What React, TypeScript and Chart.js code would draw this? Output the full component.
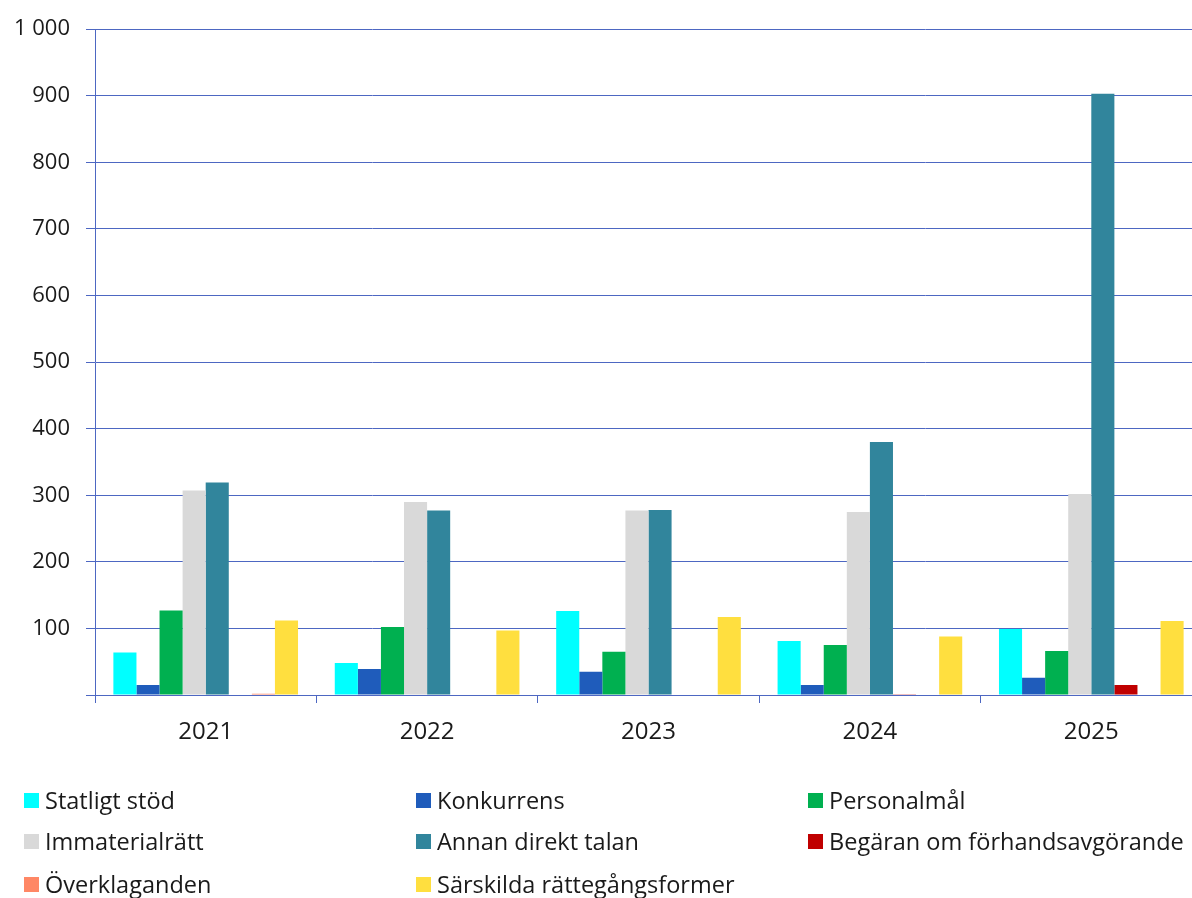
import React, { useEffect, useRef } from "react";
import { Chart, registerables } from "chart.js";

Chart.register(...registerables);

const years = ["2021", "2022", "2023", "2024", "2025"];
const seriesNames = [
  "Statligt stöd",
  "Konkurrens",
  "Personalmål",
  "Immaterialrätt",
  "Annan direkt talan",
  "Begäran om förhandsavgörande",
  "Överklaganden",
  "Särskilda rättegångsformer",
];
const seriesColors = [
  "#00ffff",
  "#1f5cbb",
  "#00b050",
  "#d9d9d9",
  "#31859c",
  "#c00000",
  "#ff8765",
  "#ffdf3f",
];
const statligtStod = [64, 48, 126, 81, 99];
const konkurrens = [15, 39, 35, 15, 26];
const personalmal = [127, 102, 65, 75, 66];
const immaterialratt = [307, 290, 277, 275, 302];
const annanDirektTalan = [319, 277, 278, 380, 903];
const begaran = [0, 0, 0, 1, 15];
const overklaganden = [2, 0, 0, 0, 0];
const sarskilda = [112, 97, 117, 88, 111];
const seriesValues = [
  statligtStod,
  konkurrens,
  personalmal,
  immaterialratt,
  annanDirektTalan,
  begaran,
  overklaganden,
  sarskilda,
];
const yTicks = [0, 100, 200, 300, 400, 500, 600, 700, 800, 900, 1000];

const FONT = "'Open Sans', 'DejaVu Sans', sans-serif";
const GRID = "#4d67c2";

export default function App() {
  const ref = useRef<HTMLCanvasElement | null>(null);
  useEffect(() => {
    if (!ref.current) return;
    const chart = new Chart(ref.current, {
      type: "bar",
      data: {
        labels: years,
        datasets: seriesNames.map((n, i) => ({
          label: n,
          data: seriesValues[i],
          backgroundColor: seriesColors[i],
          borderWidth: 0,
          categoryPercentage: 0.834,
          barPercentage: 1,
        })),
      },
      options: {
        animation: false,
        responsive: false,
        maintainAspectRatio: false,
        layout: { padding: { top: 12, bottom: 150, left: 0, right: 0 } },
        plugins: { legend: { display: false }, tooltip: { enabled: false } },
        scales: {
          x: {
            afterFit: (s: any) => {
              s.height = 53;
            },
            grid: {
              offset: true,
              drawOnChartArea: false,
              drawTicks: true,
              tickLength: 8,
              color: GRID,
              lineWidth: 1,
            },
            border: { display: true, color: GRID, width: 1 },
            ticks: {
              padding: 15,
              color: "#1a1a1a",
              font: { family: FONT, size: 24 },
            },
          },
          y: {
            min: 0,
            max: 1000,
            afterFit: (s: any) => {
              s.width = 95;
            },
            afterBuildTicks: (s: any) => {
              s.ticks = yTicks.map((v) => ({ value: v }));
            },
            grid: {
              color: GRID,
              lineWidth: 1,
              tickLength: 9,
              drawTicks: true,
            },
            border: { display: true, color: GRID, width: 1 },
            ticks: {
              padding: 16,
              color: "#1a1a1a",
              font: { family: FONT, size: 22 },
              callback: (v: any) =>
                v === 0 ? "" : v >= 1000 ? "1 000" : String(v),
            },
          },
        },
      },
    });
    return () => chart.destroy();
  }, []);

  const legendCols = [24, 416, 808];
  const legendRows = [800, 841, 884];

  return (
    <div
      style={{
        position: "absolute",
        left: 0,
        top: 0,
        width: 1192,
        height: 898,
        overflow: "hidden",
        background: "#fff",
      }}
    >
      <canvas
        ref={ref}
        width={1202}
        height={898}
        style={{ position: "absolute", left: 0, top: 0, width: 1202, height: 898 }}
      />
      {seriesNames.map((n, i) => {
        const col = i % 3;
        const row = Math.floor(i / 3);
        return (
          <div
            key={n}
            style={{
              position: "absolute",
              left: legendCols[col],
              top: legendRows[row] - 16,
              height: 32,
              display: "flex",
              alignItems: "center",
              fontFamily: FONT,
              fontSize: 23.5,
              color: "#1a1a1a",
              whiteSpace: "nowrap",
            }}
          >
            <span
              style={{
                display: "inline-block",
                width: 15,
                height: 15,
                background: seriesColors[i],
                marginRight: 6,
              }}
            />
            <span>{n}</span>
          </div>
        );
      })}
    </div>
  );
}
